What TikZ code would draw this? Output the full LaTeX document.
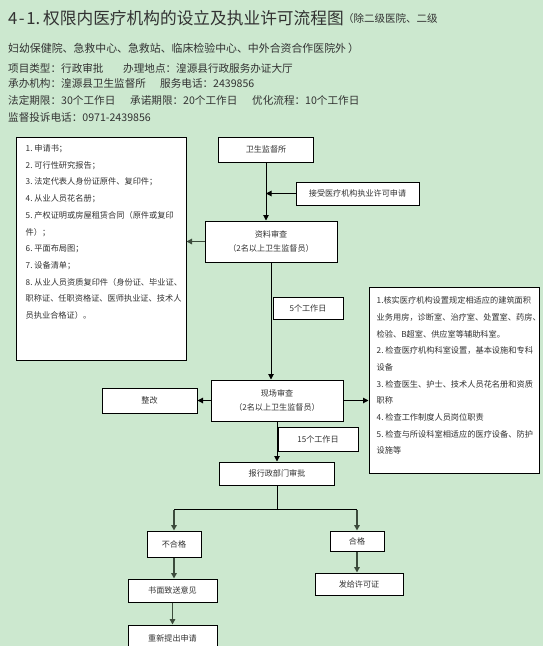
\documentclass[tikz,border=0pt]{standalone}
\usepackage{fontspec}
\newfontfamily\cjk{Noto Sans CJK SC}
\usetikzlibrary{arrows.meta}
\definecolor{bg}{RGB}{204,232,207}
\definecolor{txt}{RGB}{50,50,50}
\definecolor{lnk}{RGB}{60,75,60}
\begin{document}
\begin{tikzpicture}[x=1pt,y=-1pt,
  every node/.style={font=\cjk, text=txt, inner sep=0pt},
  box/.style={draw=black, line width=1pt, fill=white, align=center,
    font=\cjk\fontsize{8.1}{14}\selectfont},
  listtext/.style={anchor=north west, align=left,
    font=\cjk\fontsize{8.2}{16.7}\selectfont},
  info/.style={anchor=base west, font=\cjk\fontsize{10.6}{12}\selectfont},
  arr/.style={line width=1pt, draw=black, -{Triangle[length=5.5pt,width=5.5pt]}},
  arrg/.style={line width=1.4pt, draw=lnk, -{Triangle[length=5.5pt,width=5.5pt]}},
  ln/.style={line width=1pt, draw=black}]
\useasboundingbox (0,0) rectangle (543,646);
\clip (0,0) rectangle (543,646);
\fill[bg] (0,0) rectangle (543,646);

% title
\node[anchor=base west, font=\cjk\fontsize{16.7}{18}\selectfont] (title) at (8,24)
  {4\kern1.5pt-\kern1.5pt1.\kern3pt权限内医疗机构的设立及执业许可流程图};
\node[anchor=base west, font=\cjk\fontsize{10.5}{12}\selectfont] (title2) at (343,22)
  {（除二级医院、二级};
\node[anchor=base west, font=\cjk\fontsize{10.9}{12}\selectfont] (title3) at (8,52)
  {妇幼保健院、急救中心、急救站、临床检验中心、中外合资合作医院外\kern2pt）};

% info lines
\node[info] (i1a) at (8,72) {项目类型：行政审批};
\node[info] (i1b) at (123,72) {办理地点：湟源县行政服务办证大厅};
\node[info] (i2a) at (8,87) {承办机构：湟源县卫生监督所};
\node[info] (i2b) at (160,87) {服务电话：2439856};
\node[info] (i3a) at (8,104) {法定期限：30个工作日};
\node[info] (i3b) at (130,104) {承诺期限：20个工作日};
\node[info] (i3c) at (252,104) {优化流程：10个工作日};
\node[info] (i4a) at (8,121) {监督投诉电话：0971-2439856};

% left list box
\node[box, minimum width=170pt, minimum height=223pt] (list) at (101,248.5) {};
\node[listtext] (listtxt) at ([shift={(10,8)}]list.north west)
  {1.\ 申请书；\\
   2.\ 可行性研究报告；\\
   3.\ 法定代表人身份证原件、复印件；\\
   4.\ 从业人员花名册；\\
   5.\ 产权证明或房屋租赁合同（原件或复印\\
   件）；\\
   6.\ 平面布局图；\\
   7.\ 设备清单；\\
   8.\ 从业人员资质复印件（身份证、毕业证、\\
   职称证、任职资格证、医师执业证、技术人\\
   员执业合格证）。};

% right list box
\node[box, minimum width=170pt, minimum height=186pt] (rlist) at (454,380) {};
\node[listtext] (rlisttxt) at ([shift={(8,10)}]rlist.north west)
  {1.核实医疗机构设置规定相适应的建筑面积\\
   业务用房，诊断室、治疗室、处置室、药房、\\
   检验、B超室、供应室等辅助科室。\\
   2.\ 检查医疗机构科室设置，基本设施和专科\\
   设备\\
   3.\ 检查医生、护士、技术人员花名册和资质\\
   职称\\
   4.\ 检查工作制度人员岗位职责\\
   5.\ 检查与所设科室相适应的医疗设备、防护\\
   设施等};

% flow boxes
\node[box, minimum width=95pt, minimum height=25pt] (jds) at (266,149.5) {卫生监督所};
\node[box, minimum width=123pt, minimum height=23pt] (jieshou) at (357.5,193.5) {接受医疗机构执业许可申请};
\node[box, minimum width=132pt, minimum height=41pt] (ziliao) at (271,241.5) {资料审查\\（2名以上卫生监督员）};
\node[box, minimum width=70pt, minimum height=22pt] (wu) at (308,308) {5个工作日};
\node[box, minimum width=132pt, minimum height=41pt] (xianchang) at (277,400.5) {现场审查\\（2名以上卫生监督员）};
\node[box, minimum width=95pt, minimum height=25pt] (zhenggai) at (149.5,400.5) {整改};
\node[box, minimum width=80pt, minimum height=24pt] (shiwu) at (318,439) {15个工作日};
\node[box, minimum width=115pt, minimum height=23pt] (baoxing) at (277,473.5) {报行政部门审批};
\node[box, minimum width=54pt, minimum height=26pt] (buhege) at (174,544) {不合格};
\node[box, minimum width=54pt, minimum height=20pt] (hege) at (357,541) {合格};
\node[box, minimum width=88pt, minimum height=22pt] (fagei) at (359,584) {发给许可证};
\node[box, minimum width=89pt, minimum height=23pt] (shumian) at (172.5,590.5) {书面致送意见};
\node[box, minimum width=89pt, minimum height=26pt] (chongxin) at (172.5,638) {重新提出申请};

% connectors
\draw[arr] (jds.south) -- (jds.south |- ziliao.north);
\draw[arr] (jieshou.west) -- (jieshou.west -| jds.south);
\draw[arrg] (ziliao.west) -- (ziliao.west -| list.east);
\draw[arr] (ziliao.south) -- (ziliao.south |- xianchang.north);
\draw[arr] (xianchang.east) -- (xianchang.east -| rlist.west);
\draw[arr] (xianchang.west) -- (zhenggai.east);
\draw[arr] (xianchang.south) -- (xianchang.south |- baoxing.north);
\draw[ln] (baoxing.south) -- ++(0,24) coordinate (split);
\draw[ln] (buhege.north |- split) -- (hege.north |- split);
\draw[arrg] (buhege.north |- split) -- (buhege.north);
\draw[arrg] (hege.north |- split) -- (hege.north);
\draw[arrg] (buhege.south) -- (buhege.south |- shumian.north);
\draw[arrg] (shumian.south) -- (chongxin.north);
\draw[arrg] (hege.south) -- (hege.south |- fagei.north);
\end{tikzpicture}
\end{document}
